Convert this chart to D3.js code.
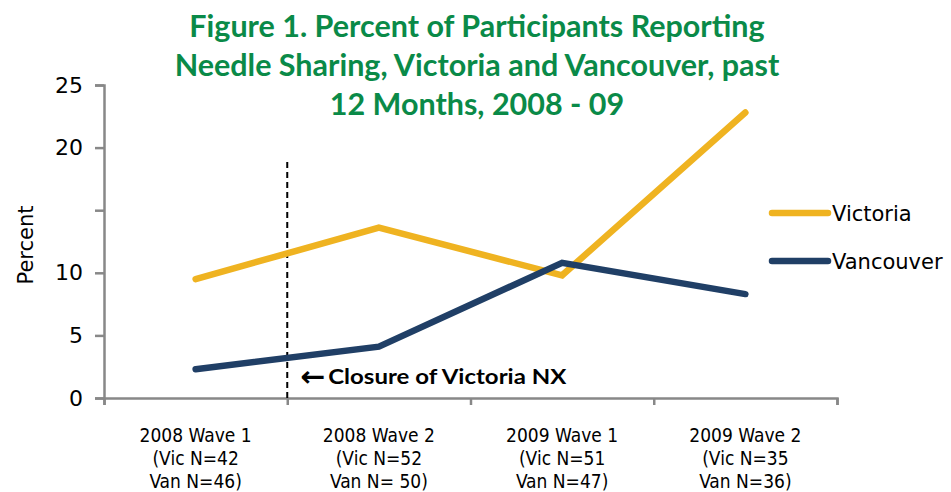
<!DOCTYPE html>
<html>
<head>
<meta charset="utf-8">
<script src="https://cdn.jsdelivr.net/npm/d3@7/dist/d3.min.js"></script>
<style>
  body { margin: 0; background: #fff; }
  svg { display: block; }
</style>
</head>
<body>
<div id="chart"></div>
<script>
let categories = ["2008 Wave 1", "2008 Wave 2", "2009 Wave 1", "2009 Wave 2"];
let catNotes = [["(Vic N=42", "Van N=46)"], ["(Vic N=52", "Van N= 50)"], ["(Vic N=51", "Van N=47)"], ["(Vic N=35", "Van N=36)"]];
let victoria = [9.5, 13.6, 9.8, 22.8];
let vancouver = [2.3, 4.1, 10.8, 8.3];
let yTicks = [0, 5, 10, 15, 20, 25];
let titleLines = ["Figure 1. Percent of Participants Reporting", "Needle Sharing, Victoria and Vancouver, past", "12 Months, 2008 - 09"];

let series = [
    {name: "Victoria", values: victoria, color: "#efb321"},
    {name: "Vancouver", values: vancouver, color: "#203f66"}
];

let width = 951, height = 492;
let svg = d3.select("#chart").append("svg")
    .attr("width", width)
    .attr("height", height);

// x uses index positions so ticks land on the band edges
let x = d3.scaleLinear().domain([0, categories.length]).range([104, 837]);
let y = d3.scaleLinear().domain([0, 25]).range([398, 85]);

// title
svg.append("g").selectAll("text")
    .data(titleLines)
    .enter().append("text")
    .attr("x", 477)
    .attr("y", (d, i) => 37 + i * 39)
    .attr("text-anchor", "middle")
    .attr("font-family", "Lato, 'Open Sans', sans-serif")
    .attr("font-weight", "bold")
    .attr("font-size", 30.5)
    .attr("fill", "#0a8a48")
    .text(d => d);

// y axis
let yAxis = svg.append("g")
    .attr("transform", "translate(" + x(0) + ",0)")
    .call(d3.axisLeft(y).tickValues(yTicks).tickSize(9).tickPadding(12)
        .tickFormat(d => d === 15 ? "" : d));

// x axis
let xAxis = svg.append("g")
    .attr("transform", "translate(0," + y(0) + ")")
    .call(d3.axisBottom(x).tickValues(d3.range(categories.length + 1)).tickSize(7).tickFormat(""));

[yAxis, xAxis].forEach(g => {
    g.select(".domain").attr("stroke", "#888").attr("stroke-width", 2.5);
    g.selectAll(".tick line").attr("stroke", "#888").attr("stroke-width", 2.5);
});
yAxis.selectAll(".tick text")
    .attr("font-family", "'DejaVu Sans', sans-serif")
    .attr("font-size", 22)
    .attr("fill", "#000");

// y axis label
svg.append("text")
    .attr("transform", "translate(33,245) rotate(-90)")
    .attr("text-anchor", "middle")
    .attr("font-family", "'DejaVu Sans', sans-serif")
    .attr("font-size", 21)
    .text("Percent");

// category labels
categories.forEach((c, i) => {
    let t = svg.append("text")
        .attr("text-anchor", "middle")
        .attr("font-family", "'DejaVu Sans Condensed', 'DejaVu Sans', sans-serif")
        .attr("font-size", 19);
    [c].concat(catNotes[i]).forEach((line, j) => {
        t.append("tspan")
            .attr("x", x(i + 0.5))
            .attr("y", 442 + j * 23)
            .text(line);
    });
});

// closure marker
svg.append("line")
    .attr("x1", x(1)).attr("x2", x(1))
    .attr("y1", 162).attr("y2", y(0))
    .attr("stroke", "#000")
    .attr("stroke-width", 2)
    .attr("stroke-dasharray", "6,4");

svg.append("text")
    .attr("x", x(1) + 13)
    .attr("y", 386)
    .attr("font-family", "'DejaVu Sans', sans-serif")
    .attr("font-weight", "bold")
    .attr("font-size", 28)
    .attr("textLength", 25)
    .attr("lengthAdjust", "spacingAndGlyphs")
    .text("\u2190");

svg.append("text")
    .attr("x", x(1) + 41)
    .attr("y", 384)
    .attr("font-family", "Lato, sans-serif")
    .attr("font-weight", "bold")
    .attr("font-size", 21)
    .attr("textLength", 238)
    .attr("lengthAdjust", "spacingAndGlyphs")
    .text("Closure of Victoria NX");

// lines
let line = d3.line()
    .x((d, i) => x(i + 0.5))
    .y(d => y(d));

series.forEach(s => {
    svg.append("path")
        .datum(s.values)
        .attr("d", line)
        .attr("fill", "none")
        .attr("stroke", s.color)
        .attr("stroke-width", 6.5)
        .attr("stroke-linecap", "round")
        .attr("stroke-linejoin", "miter");
});

// legend
let legend = svg.append("g").selectAll("g")
    .data(series)
    .enter().append("g")
    .attr("transform", (d, i) => "translate(772," + (213 + i * 48) + ")");

legend.append("line")
    .attr("x1", 0).attr("x2", 56)
    .attr("stroke", d => d.color)
    .attr("stroke-width", 6.5)
    .attr("stroke-linecap", "round");

legend.append("text")
    .attr("x", 60)
    .attr("y", 8)
    .attr("font-family", "'DejaVu Sans', sans-serif")
    .attr("font-size", 21)
    .text(d => d.name);
</script>
</body>
</html>
